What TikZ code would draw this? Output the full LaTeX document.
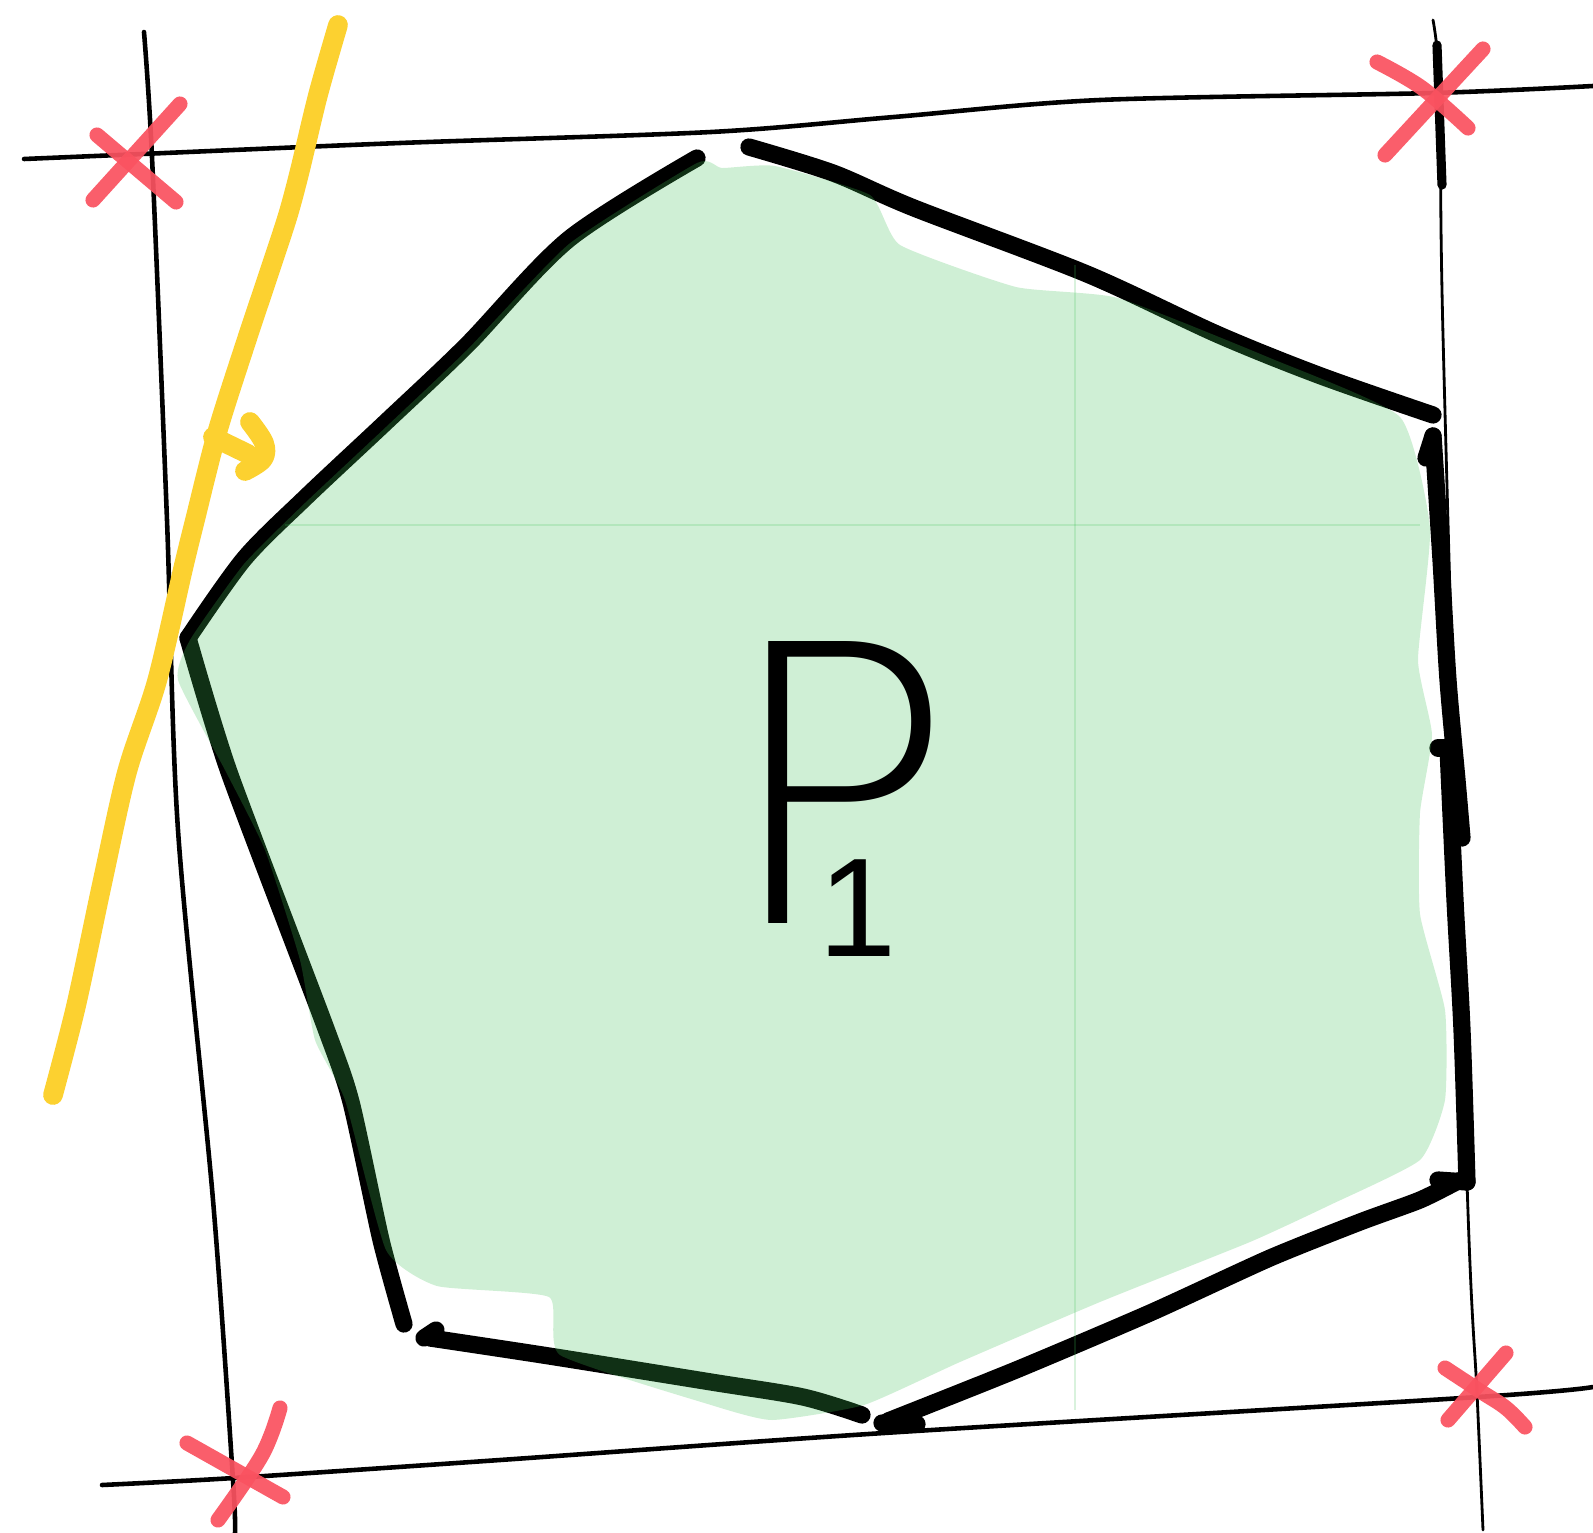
\documentclass[tikz,border=0pt]{standalone}
\usepackage{fontspec}
\newfontfamily\handfont{DejaVu Sans ExtraLight}
\newfontfamily\digitfont{Liberation Sans}
\definecolor{sketchgreen}{RGB}{64,192,87}
\definecolor{sketchred}{RGB}{250,82,96}
\definecolor{sketchgold}{RGB}{252,209,48}
\tikzset{
  frameline/.style={line width=1.3pt, line cap=round},
  hullline/.style={line width=4.9pt, line cap=round, line join=round},
  crossmark/.style={sketchred, line width=4.3pt, line cap=round, draw opacity=0.93},
  cutline/.style={sketchgold, line width=5.6pt, line cap=round, line join=round}
}

\begin{document}
\begin{tikzpicture}[x=0.01cm, y=-0.01cm]

  \useasboundingbox (0,0) rectangle (1593,1533);

  % Bounding square (thin, hand drawn)
  \draw[frameline] plot[smooth, tension=0.5] coordinates
    {(24,159) (142,154) (400,143) (711,132) (894,117) (1100,100) (1433,93) (1593,86)};
  \draw[frameline] plot[smooth, tension=0.5] coordinates
    {(144,32) (152,157) (167,520) (178,830) (213,1200) (233,1480) (235,1533)};
  \draw[frameline, line width=0.8pt] plot[smooth, tension=0.5] coordinates
    {(1433,20) (1440,92) (1443,335) (1467,1182) (1477,1393) (1483,1530)};
  \draw[line width=2.6pt, line cap=round] (1437,45) -- (1442,185);
  \draw[frameline] plot[smooth, tension=0.5] coordinates
    {(102,1485) (234,1478) (500,1460) (884,1433) (1478,1397) (1593,1387)};

  % Hull of the polygon
  \draw[hullline] plot[smooth, tension=0.5] coordinates
    {(697,158) (569,239) (467,345) (386,422) (305,498) (244,559) (188,638)};
  \draw[hullline] plot[smooth, tension=0.4] coordinates
    {(188,638) (229,772) (325,1026) (351,1102) (381,1240) (404,1324)};
  \draw[hullline] (424,1338) -- (436,1330);
  \draw[hullline] plot[smooth, tension=0.5] coordinates
    {(430,1338) (549,1356) (711,1382) (803,1397) (862,1415)};
  \draw[hullline] (882,1423) -- (917,1424);
  \draw[hullline] plot[smooth, tension=0.4] coordinates
    {(888,1421) (1016,1370) (1150,1313) (1270,1258) (1360,1222) (1420,1200) (1458,1181)};
  \draw[hullline] (1438,1180) -- (1467,1182);
  \draw[hullline] (1426,458) -- (1433,436);
  \draw[hullline] plot[smooth, tension=0.5] coordinates
    {(1433,436) (1441,560) (1448,680) (1457,780) (1462,838)};
  \draw[hullline] (1438,748) -- (1450,748);
  \draw[hullline] plot[smooth, tension=0.5] coordinates
    {(1448,748) (1455,900) (1462,1030) (1467,1182)};
  \draw[hullline] plot[smooth, tension=0.5] coordinates
    {(749,147) (833,173) (914,208) (1087,274) (1219,335) (1321,376) (1433,415)};

  % Region P1 (fill laid over the hull)
  \fill[sketchgreen, fill opacity=0.25] plot[smooth cycle, tension=0.3] coordinates
    {(722,168) (775,166) (870,195) (900,245) (1016,287) (1118,298) (1270,358)
     (1400,417) (1430,528) (1418,660) (1432,735) (1420,813) (1420,914)
     (1445,1010) (1445,1100) (1420,1160) (1330,1205) (1250,1242) (1100,1302)
     (960,1362) (864,1405) (772,1420) (711,1405) (560,1355) (549,1297)
     (437,1286) (386,1250) (345,1100) (315,1040) (300,960) (265,850)
     (225,770) (178,680) (190,640) (244,564) (305,503) (386,427) (467,350)
     (569,244) (697,163)};
  \draw[sketchgreen, draw opacity=0.2, line width=0.6pt] (285,525) -- (1420,525);
  \draw[sketchgreen, draw opacity=0.2, line width=0.6pt] (1075,265) -- (1075,1410);

  % Label
  \node[inner sep=0pt, anchor=base, font=\handfont\fontsize{110}{110}\selectfont] (plabel) at (838,923)
    {P\rlap{\kern-1.36cm\smash{\raisebox{-0.33cm}{\digitfont\fontsize{40}{40}\selectfont 1}}}};

  % Cutting line with its side arrow
  \draw[cutline] plot[smooth, tension=0.5] coordinates
    {(338,25) (318,95) (300,170) (288,215) (270,270) (245,345) (217,433)
     (195,520) (183,569) (157,681) (127,772) (102,884) (76,1006) (53,1095)};
  \draw[cutline] (213,437) -- (248,454);
  \draw[cutline] plot[smooth, tension=0.6] coordinates
    {(250,422) (264,443) (263,459) (245,471)};

  % Corner marks
  \draw[crossmark] (97,135) -- (176,202);
  \draw[crossmark] (180,104) -- (93,200);
  \draw[crossmark] plot[smooth, tension=0.6] coordinates {(1377,62) (1422,88) (1468,128)};
  \draw[crossmark] (1483,49) -- (1385,155);
  \draw[crossmark] plot[smooth, tension=0.6] coordinates {(1445,1368) (1480,1391) (1506,1408) (1525,1427)};
  \draw[crossmark] (1506,1353) -- (1448,1420);
  \draw[crossmark] (187,1443) -- (283,1497);
  \draw[crossmark] plot[smooth, tension=0.6] coordinates {(280,1408) (262,1455) (218,1520)};

\end{tikzpicture}
\end{document}
